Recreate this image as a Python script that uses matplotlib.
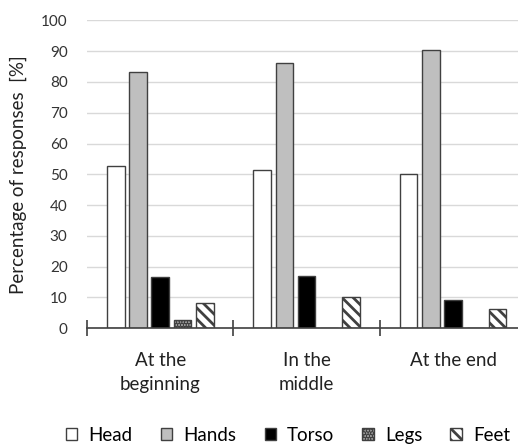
import matplotlib.pyplot as plt
import numpy as np

plt.rcParams['font.family'] = ['Lato', 'DejaVu Sans']
plt.rcParams['hatch.linewidth'] = 2.0

categories = ['At the\nbeginning', 'In the\nmiddle', 'At the end']
parts = ['Head', 'Hands', 'Torso', 'Legs', 'Feet']
head = [52.7, 51.5, 50.0]
hands = [83.1, 86.1, 90.5]
torso = [16.7, 17.1, 9.3]
legs = [2.8, 0, 0]
feet = [8.1, 10.1, 6.2]

series = [head, hands, torso, legs, feet]
faces = ['white', '#bfbfbf', 'black', '#a6a6a6', 'white']
hatches = [None, None, None, '......', '\\\\\\']

fig = plt.figure(figsize=(5.18, 4.44), dpi=100)
ax = fig.add_axes([0.168, 0.261, 0.848, 0.693])

x = np.arange(len(categories))
step = 0.152
width = 0.12
for i, (vals, fc, h) in enumerate(zip(series, faces, hatches)):
    ax.bar(x + (i - 2) * step, vals, width, color=fc, edgecolor='#404040',
           linewidth=1.0, hatch=h, label=parts[i], zorder=3)

ax.set_ylim(0, 100)
ax.set_xlim(-0.5, 2.5)
ax.set_yticks(range(0, 101, 10))
ax.grid(axis='y', color='#d9d9d9', linewidth=1.0, zorder=0)
for s in ['left', 'right', 'top']:
    ax.spines[s].set_visible(False)
ax.spines['bottom'].set_color('#404040')
ax.spines['bottom'].set_linewidth(1.2)
ax.spines['bottom'].set_zorder(4)

ax.set_xticks(x)
ax.set_xticklabels(categories, fontsize=13.5, color='#222222', linespacing=1.5)
ax.set_xticks([-0.5, 0.5, 1.5, 2.5], minor=True)
ax.tick_params(axis='x', which='major', length=0, pad=17)
ax.tick_params(axis='x', which='minor', length=11, direction='inout',
               color='#404040', width=1.2)
ax.tick_params(axis='y', length=0, labelsize=11, labelcolor='#333333', pad=14)

ax.set_ylabel('Percentage of responses  [%]', fontsize=13.5, color='#222222', labelpad=10)

fig.legend(loc='center', bbox_to_anchor=(0.556, 0.02), ncol=5, frameon=False,
           fontsize=13.5, handlelength=0.6, handleheight=0.6, columnspacing=1.5,
           handletextpad=0.6)

plt.savefig('out.png')
